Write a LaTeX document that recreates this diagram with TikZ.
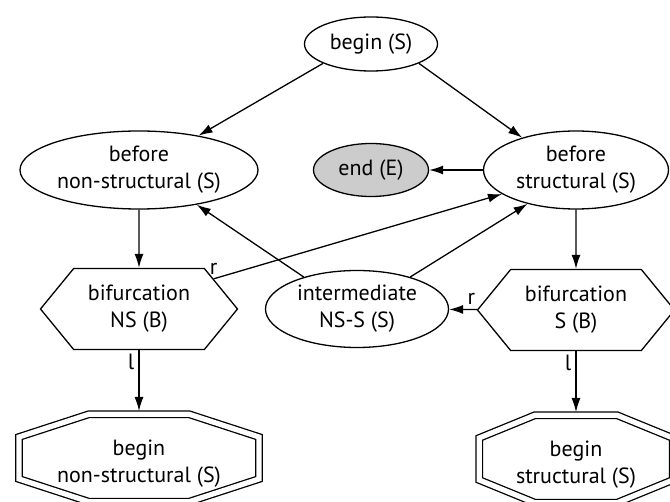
\documentclass[tikz,border=0pt]{standalone}
\usepackage{fontspec}
\setmainfont{PT Sans}
\usetikzlibrary{arrows.meta,shapes,positioning}

\begin{document}
\begin{tikzpicture}
[state/.style={ellipse, draw, line width=0.65pt, inner sep=0pt, align=center},
 final/.style={state, fill=gray!40},
 branch/.style={signal, signal to=east and west, signal pointer angle=101.4, draw, line width=0.65pt,
   inner sep=0pt, align=center, minimum width=98.5pt, minimum height=40.5pt},
 start/.style={rectangle, inner sep=0pt, outer sep=1.6pt, align=center, minimum height=49.8pt},
 dbl/.style={double, double distance=2.6pt, line width=0.65pt},
 child/.style={-{Latex[length=7pt,width=4.5pt]}, line width=0.65pt},
 lbl/.style={inner sep=2pt},
 on grid, font=\fontsize{11}{13.5}\selectfont]
    \useasboundingbox (-185.5pt,-229pt) rectangle (149.5pt,22pt);
    \node[state](begin) [minimum width=66.5pt, minimum height=27pt] {begin (S)};
    \node[state](bNS) [below left=63pt and 116pt of begin, minimum width=119pt, minimum height=39pt] {before\\non-structural (S)};
    \node[final](end) [below=63pt of begin, minimum width=57.5pt, minimum height=26.5pt] {end (E)};
    \node[state](bS) [below right=63pt and 102.5pt of begin, minimum width=92.5pt, minimum height=39pt] {before\\structural (S)};
    \node[branch](bifNS) [below=69.5pt of bNS] {bifurcation\\NS (B)};
    \node[state](inter) [right=109pt of bifNS, minimum width=91.5pt, minimum height=38.5pt] {intermediate\\NS-S (S)};
    \node[branch](bifS) [below=70pt of bS] {bifurcation\\S (B)};
    \node[start](octNS) [below=77.5pt of bifNS, minimum width=120pt] {begin\\non-structural (S)};
    \node[start](octS) [below=77.5pt of bifS, minimum width=96.8pt] {begin\\structural (S)};
    % double octagons round the start nodes
    \foreach \oname/\hw/\te in {octNS/60/25, octS/48.4/20.5}
        \draw[dbl] ([shift={(-\te pt,24.9pt)}]\oname.center) -- ([shift={(\te pt,24.9pt)}]\oname.center)
            -- ([shift={(\hw pt,13.5pt)}]\oname.center) -- ([shift={(\hw pt,-7.5pt)}]\oname.center)
            -- ([shift={(\te pt,-18.9pt)}]\oname.center) -- ([shift={(-\te pt,-18.9pt)}]\oname.center)
            -- ([shift={(-\hw pt,-7.5pt)}]\oname.center) -- ([shift={(-\hw pt,13.5pt)}]\oname.center) -- cycle;
    \draw[child] (begin.202) -- (bNS.30);
    \draw[child] (begin.338) -- (bS.149);
    \draw[child] (bS) -- (end);
    \draw[child] (bNS) -- (bifNS);
    \draw[child] (bS) -- (bifS);
    \draw[child] (inter.149) -- (bNS.329);
    \draw[child] (inter.31) -- (bS.215);
    \draw[child] (bifNS.22) -- node[pos=0, above, lbl] {r} (bS.198);
    \draw[child] (bifS) -- node[pos=0.2, above, lbl] {r} (inter);
    \draw[child] (bifNS) -- node[pos=0.2, left, lbl] {l} (octNS);
    \draw[child] (bifS) -- node[pos=0.2, left, lbl] {l} (octS);
\end{tikzpicture}
\end{document}
